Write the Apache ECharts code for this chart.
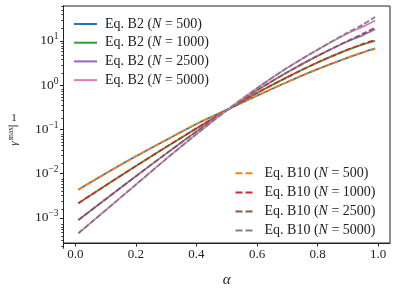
<!DOCTYPE html>
<html><head><meta charset="utf-8">
<script src="https://cdn.jsdelivr.net/npm/echarts@6/dist/echarts.min.js"></script>
<style>html,body{margin:0;padding:0;background:#fff}#c{width:397px;height:293px}</style>
</head><body><div id="c"></div>
<script>
// alpha grid
const alpha = [0.01, 0.1, 0.2, 0.3, 0.4, 0.5, 0.6, 0.7, 0.8, 0.9, 0.95, 0.99];
// Eq. B2 (solid)
const b2_500  = [0.00432, 0.0100, 0.0245, 0.0575, 0.132, 0.275, 0.575, 1.175, 2.29, 4.17, 5.50, 6.76];
const b2_1000 = [0.00214, 0.00537, 0.0148, 0.0398, 0.105, 0.269, 0.661, 1.51, 3.24, 6.31, 8.32, 10.0];
const b2_2500 = [0.000891, 0.00263, 0.00871, 0.0282, 0.0891, 0.269, 0.759, 1.95, 4.57, 9.77, 13.5, 18.2];
const b2_5000 = [0.000447, 0.00148, 0.00562, 0.0214, 0.0776, 0.269, 0.851, 2.45, 6.31, 14.8, 20.9, 28.8];
// Eq. B10 (dashed)
const b10_500  = [0.00432, 0.0100, 0.0245, 0.0575, 0.132, 0.275, 0.575, 1.175, 2.29, 4.17, 5.45, 6.61];
const b10_1000 = [0.00214, 0.00537, 0.0148, 0.0398, 0.105, 0.269, 0.661, 1.51, 3.24, 6.31, 8.50, 10.5];
const b10_2500 = [0.000891, 0.00263, 0.00871, 0.0282, 0.0891, 0.269, 0.759, 1.95, 4.57, 10.0, 14.5, 20.0];
const b10_5000 = [0.000447, 0.00148, 0.00562, 0.0214, 0.0776, 0.269, 0.851, 2.45, 6.31, 15.5, 23.4, 34.7];

const xTicks = [0, 0.2, 0.4, 0.6, 0.8, 1.0];
const yDecades = [-3, -2, -1, 0, 1];
const Ns = ['500', '1000', '2500', '5000'];

const FONT = 'Liberation Serif';
const colorsB2 = ['#1f77b4', '#2ca02c', '#9467bd', '#e377c2'];
const colorsB10 = ['#ff7f0e', '#d62728', '#8c564b', '#7f7f7f'];
const b2 = [b2_500, b2_1000, b2_2500, b2_5000];
const b10 = [b10_500, b10_1000, b10_2500, b10_5000];

const yMin = -3.57, yMax = 1.787;
const minorTicks = [];
for (let e = -4; e <= 1; e++) for (let k = 2; k <= 9; k++) {
  const v = Math.log10(k) + e;
  if (v > yMin && v < yMax) minorTicks.push(v);
}

function pairs(vals) { return alpha.map((a, i) => [a, Math.log10(vals[i])]); }

const series = [];
for (let i = 0; i < 4; i++) {
  series.push({
    name: 'B2|' + Ns[i], type: 'line', data: pairs(b2[i]), symbol: 'none', smooth: 0.3,
    color: colorsB2[i], lineStyle: {width: 1.8, color: colorsB2[i]}, z: 2 + 2 * i
  });
  series.push({
    name: 'B10|' + Ns[i], type: 'line', data: pairs(b10[i]), symbol: 'none', smooth: 0.3,
    color: colorsB10[i], lineStyle: {width: 1.8, color: colorsB10[i], type: [5.5, 2.4]}, z: 3 + 2 * i
  });
}

const legendRich = {
  t: {fontFamily: FONT, fontSize: 14, color: '#222'},
  i: {fontFamily: FONT, fontSize: 14, fontStyle: 'italic', color: '#222'}
};
function legendFmt(name) {
  const p = name.split('|');
  return '{t|Eq. ' + p[0] + ' (}{i|N}{t| = ' + p[1] + ')}';
}

const gridRect = {left: 63.5, top: 6, width: 326.5, height: 242.3};

const chart = echarts.init(document.getElementById('c'), null, {renderer: 'canvas'});
chart.setOption({
  animation: false,
  backgroundColor: '#fff',
  grid: [
    Object.assign({show: true, borderColor: '#222', borderWidth: 1, backgroundColor: 'transparent'}, gridRect),
    Object.assign({show: false}, gridRect)
  ],
  xAxis: [{
    gridIndex: 0, type: 'value', min: -0.039, max: 1.039,
    axisLine: {show: true, onZero: false, lineStyle: {color: '#222', width: 1}},
    axisTick: {show: true, customValues: xTicks, length: 3.5, lineStyle: {color: '#222'}},
    axisLabel: {customValues: xTicks, formatter: v => v.toFixed(1), fontFamily: FONT, fontSize: 13, color: '#222', margin: 5},
    splitLine: {show: false},
    name: 'α', nameLocation: 'middle', nameGap: 30,
    nameTextStyle: {fontFamily: FONT, fontSize: 15, fontStyle: 'italic', color: '#222'}
  }, {
    gridIndex: 1, type: 'value', min: -0.039, max: 1.039, show: false
  }],
  yAxis: [{
    gridIndex: 0, type: 'value', min: yMin, max: yMax,
    axisLine: {show: true, onZero: false, lineStyle: {color: '#222', width: 1}},
    axisTick: {show: true, customValues: yDecades, length: 3.5, lineStyle: {color: '#222'}},
    axisLabel: {
      customValues: yDecades, margin: 5,
      formatter: v => '{b|10}{s|' + (v < 0 ? '\u2212' + (-v) : String(v)) + '}',
      rich: {
        b: {fontFamily: FONT, fontSize: 13.5, color: '#222'},
        s: {fontFamily: FONT, fontSize: 9.5, color: '#222', padding: [0, 0, 8, 0]}
      }
    },
    splitLine: {show: false}
  }, {
    // minor log ticks, on an overlaid grid with the same rectangle
    gridIndex: 1, type: 'value', min: yMin, max: yMax, position: 'left',
    axisLine: {show: true, onZero: false, lineStyle: {color: '#222', width: 1}},
    axisTick: {show: true, inside: false, customValues: minorTicks, length: 2.2, lineStyle: {color: '#222', width: 0.9}},
    axisLabel: {show: false},
    splitLine: {show: false}
  }],
  legend: [{
    data: Ns.map(n => 'B2|' + n), orient: 'vertical', left: 74, top: 17, padding: 0,
    itemWidth: 23, itemHeight: 2, itemGap: 4.7, icon: 'rect',
    formatter: legendFmt, textStyle: {rich: legendRich, padding: [0, 0, 0, 3]}
  }, {
    data: Ns.map(n => 'B10|' + n), orient: 'vertical', left: 235.5, top: 166.3, padding: 0,
    itemWidth: 17, itemHeight: 2, itemGap: 5.1,
    icon: 'path://M0,0H7V2H0Z M10,0H17V2H10Z',
    formatter: legendFmt, textStyle: {rich: legendRich, padding: [0, 0, 0, 7]}
  }],
  graphic: [
    {type: 'text', style: {x: 14, y: 118.5, text: '1', fontFamily: FONT, fontSize: 11, fill: '#222', align: 'center', verticalAlign: 'middle'}},
    {type: 'rect', shape: {x: 8.3, y: 125.5, width: 10, height: 0.9}, style: {fill: '#222'}},
    {type: 'text', x: 14.5, y: 143.5, rotation: Math.PI / 2, style: {x: 0, y: 0, text: 'γ', fontFamily: FONT, fontSize: 11, fontStyle: 'italic', fill: '#222', align: 'center', verticalAlign: 'middle'}},
    {type: 'text', x: 11, y: 133.5, rotation: Math.PI / 2, style: {x: 0, y: 0, text: 'max', fontFamily: FONT, fontSize: 7.5, fill: '#222', align: 'center', verticalAlign: 'middle'}}
  ],
  series: series
});
</script>
</body></html>
